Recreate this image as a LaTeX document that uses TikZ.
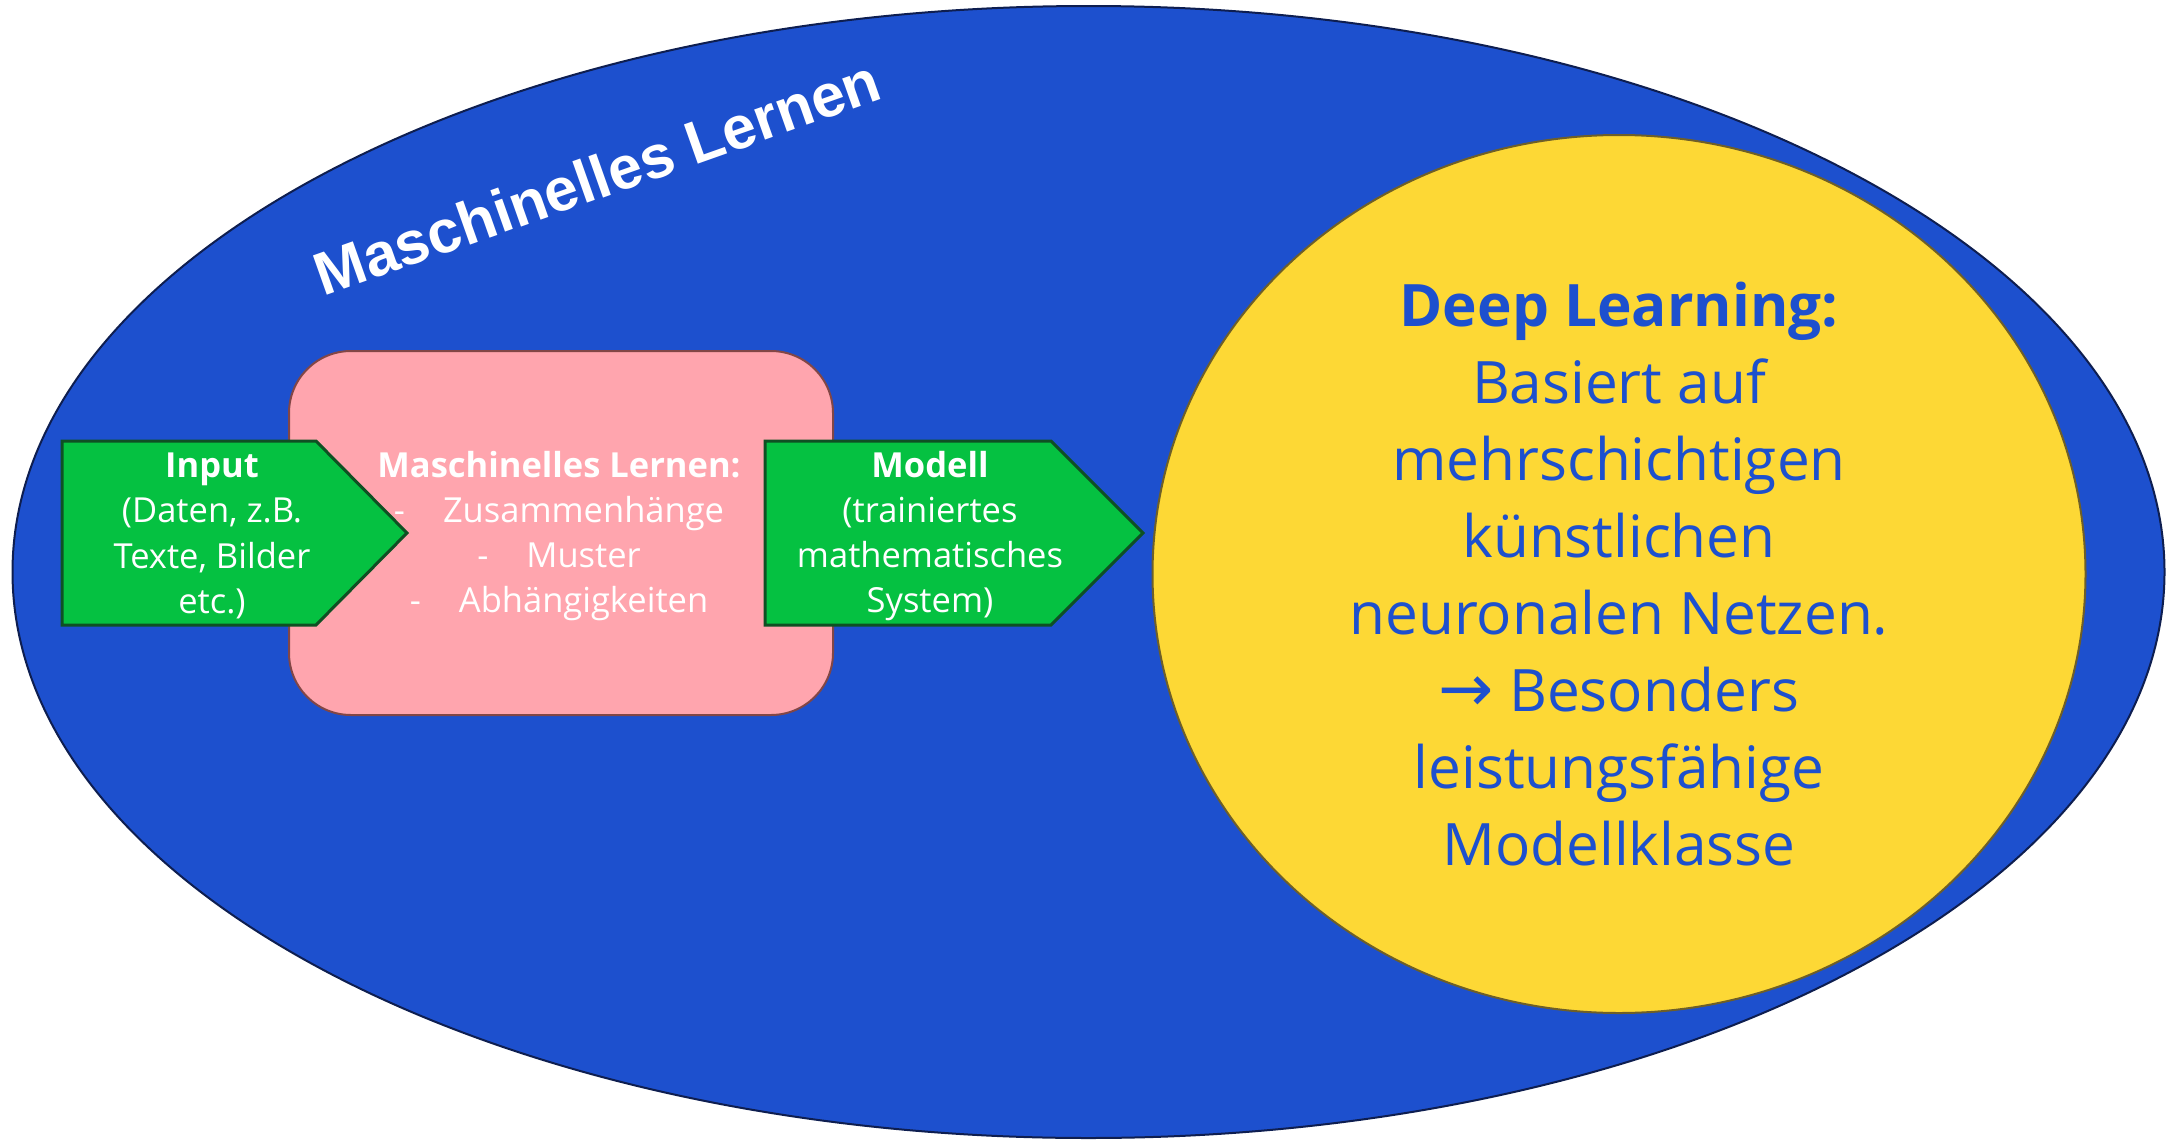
\documentclass[tikz,border=0pt]{standalone}
\usepackage{fontspec}
\setmainfont{Open Sans}
\newfontfamily\titlefont{Liberation Sans}
\newfontfamily\arrowfont{DejaVu Sans}
\usepackage{tikz}
\usetikzlibrary{shapes.geometric, positioning}
\definecolor{mlblue}{RGB}{29,80,206}
\definecolor{mlnavy}{RGB}{14,30,80}
\definecolor{dlyellow}{RGB}{253,216,53}
\definecolor{dlborder}{RGB}{110,95,40}
\definecolor{boxpink}{RGB}{255,165,174}
\definecolor{boxborder}{RGB}{130,70,70}
\definecolor{arrowgreen}{RGB}{5,193,65}
\definecolor{arrowborder}{RGB}{15,80,35}

\begin{document}
\begin{tikzpicture}[
                x=1pt, y=-1pt,
                bluefield/.style={draw=mlnavy, line width=2pt, fill=mlblue},
                yellowfield/.style={ellipse, draw=dlborder, line width=2pt, fill=dlyellow, inner sep=0pt, align=center, text=mlblue, font=\fontsize{58.5}{77}\selectfont},
                pinkbox/.style={draw=boxborder, line width=2pt, fill=boxpink, rounded corners=62pt, inner sep=0pt, align=center, text=white, font=\fontsize{34.5}{45.3}\selectfont},
                greenarrow/.style={draw=arrowborder, line width=3pt, fill=arrowgreen},
                greentext/.style={align=center, text=white, inner sep=0pt, font=\fontsize{34.5}{45.3}\selectfont},
                titletext/.style={text=white, inner sep=0pt, font=\titlefont\bfseries\fontsize{60.5}{70}\selectfont}
            ]
                \useasboundingbox (0,0) rectangle (2177,1143);
                \draw[bluefield] (1088.5,572) ellipse [x radius=1076pt, y radius=566pt];
                \node[titletext, rotate=19.5] (mltitle) at (597,177) {Maschinelles Lernen};

                % Ablauf: Input -> Lernen -> Modell
                \node[pinkbox, minimum width=544pt, minimum height=364pt] (lernbox) at (561,533) {};
                \node[greentext] (lernen) at (559,536)
                    {\textbf{Maschinelles Lernen:}\\-\hspace{38pt}Zusammenhänge\\-\hspace{38pt}Muster\\-\hspace{38pt}Abhängigkeiten};
                \draw[greenarrow] (62,441) -- (316,441) -- (407,533) -- (316,625) -- (62,625) -- cycle;
                \draw[greenarrow] (765,441) -- (1051,441) -- (1143,533) -- (1051,625) -- (765,625) -- cycle;
                \node[greentext] (input) at (212,536) {\textbf{Input}\\(Daten, z.B.\\Texte, Bilder\\etc.)};
                \node[greentext] (modell) at (930,536) {\textbf{Modell}\\(trainiertes\\mathematisches\\System)};

                \node[yellowfield, minimum width=933pt, minimum height=878pt] (deep) at (1619,574)
                    {\textbf{Deep Learning:}\\Basiert auf\\mehrschichtigen\\künstlichen\\neuronalen Netzen.\\{\arrowfont\fontsize{66}{77}\selectfont →} Besonders\\leistungsfähige\\Modellklasse};
            \end{tikzpicture}
\end{document}
